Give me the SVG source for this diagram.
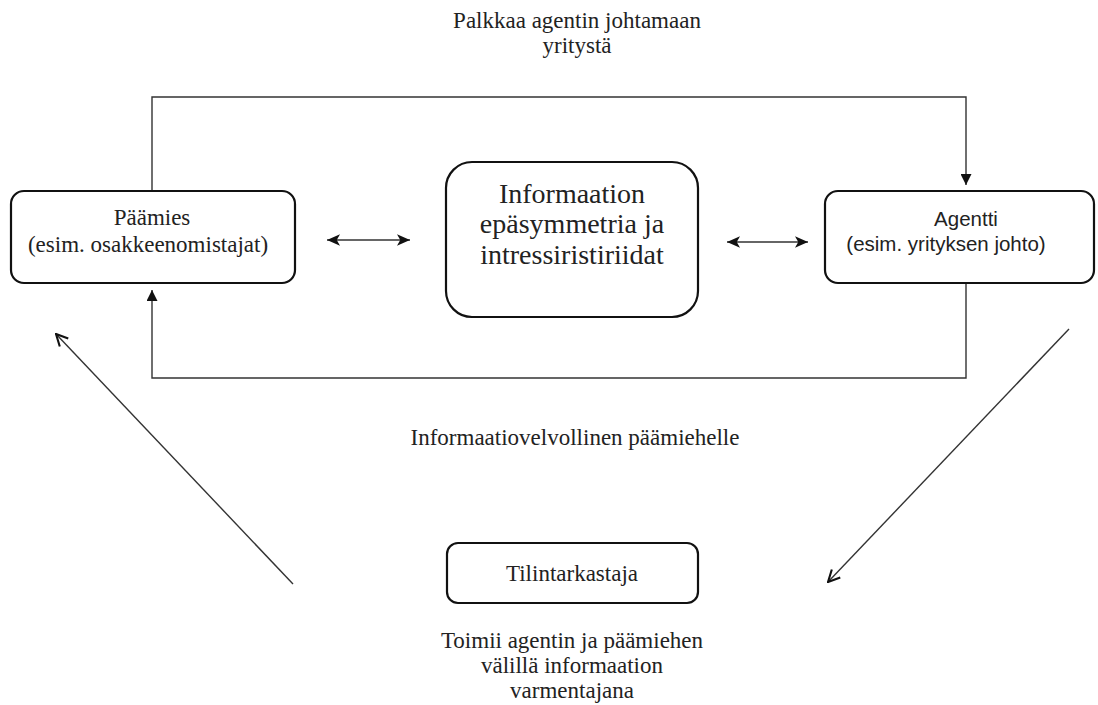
<svg xmlns="http://www.w3.org/2000/svg" width="1098" height="705" viewBox="0 0 1098 705">
<style>
.box{fill:#fff;stroke:#111;stroke-width:2.2}
.con{fill:none;stroke:#333;stroke-width:1.4}
.serif{font-family:"Liberation Serif","Times New Roman",serif;fill:#222;text-anchor:middle;font-size:23px}
.big{font-size:28px}
.sans{font-family:"Liberation Sans",Arial,sans-serif;fill:#222;text-anchor:middle;font-size:20.5px}
</style>
<defs>
<marker id="tri" viewBox="0 0 10 10" refX="10" refY="5" markerWidth="11" markerHeight="11" markerUnits="userSpaceOnUse" orient="auto-start-reverse">
<path d="M0,0 L10,5 L0,10 z" fill="#111"/>
</marker>
<marker id="dart" viewBox="0 0 10 10" refX="10" refY="5" markerWidth="13" markerHeight="13" markerUnits="userSpaceOnUse" orient="auto-start-reverse">
<path d="M0,0.5 L10,5 L0,9.5 L2.5,5 z" fill="#111"/>
</marker>
<marker id="open" viewBox="0 0 12 12" refX="11" refY="6" markerWidth="14" markerHeight="14" markerUnits="userSpaceOnUse" orient="auto">
<path d="M1,1 L11,6 L1,11" fill="none" stroke="#111" stroke-width="1.8"/>
</marker>
</defs>
<g id="connectors">
<path class="con" d="M152,191 V97 H966 V185" marker-end="url(#tri)"/>
<path class="con" d="M966,283 V378 H152 V290" marker-end="url(#tri)"/>
<line class="con" x1="327" y1="240" x2="410" y2="240" stroke-width="2" marker-start="url(#dart)" marker-end="url(#dart)"/>
<line class="con" x1="727" y1="242" x2="808" y2="242" stroke-width="2" marker-start="url(#dart)" marker-end="url(#dart)"/>
<line class="con" x1="293" y1="584" x2="56" y2="334" marker-end="url(#open)"/>
<line class="con" x1="1069" y1="329" x2="828" y2="582" marker-end="url(#open)"/>
</g>
<g id="label-hire">
<text class="serif" x="577" y="28">Palkkaa agentin johtamaan</text>
<text class="serif" x="577" y="53">yritystä</text>
</g>
<g id="paamies">
<rect class="box" x="11" y="191" width="284" height="92" rx="13"/>
<text class="serif" x="152" y="225">Päämies</text>
<text class="serif" x="148" y="252">(esim. osakkeenomistajat)</text>
</g>
<g id="info">
<rect class="box" x="446" y="162" width="252" height="155" rx="26"/>
<text class="serif big" x="572" y="203">Informaation</text>
<text class="serif big" x="572" y="233">epäsymmetria ja</text>
<text class="serif big" x="572" y="264">intressiristiriidat</text>
</g>
<g id="agentti">
<rect class="box" x="825" y="191" width="269" height="92" rx="13"/>
<text class="sans" x="966" y="226">Agentti</text>
<text class="sans" x="946" y="251">(esim. yrityksen johto)</text>
</g>
<g id="label-info">
<text class="serif" x="575" y="445">Informaatiovelvollinen päämiehelle</text>
</g>
<g id="tilintarkastaja">
<rect class="box" x="447" y="543" width="251" height="60" rx="11"/>
<text class="serif" x="572" y="581">Tilintarkastaja</text>
</g>
<g id="label-auditor">
<text class="serif" x="572" y="648">Toimii agentin ja päämiehen</text>
<text class="serif" x="572" y="673">välillä informaation</text>
<text class="serif" x="572" y="698">varmentajana</text>
</g>
</svg>
